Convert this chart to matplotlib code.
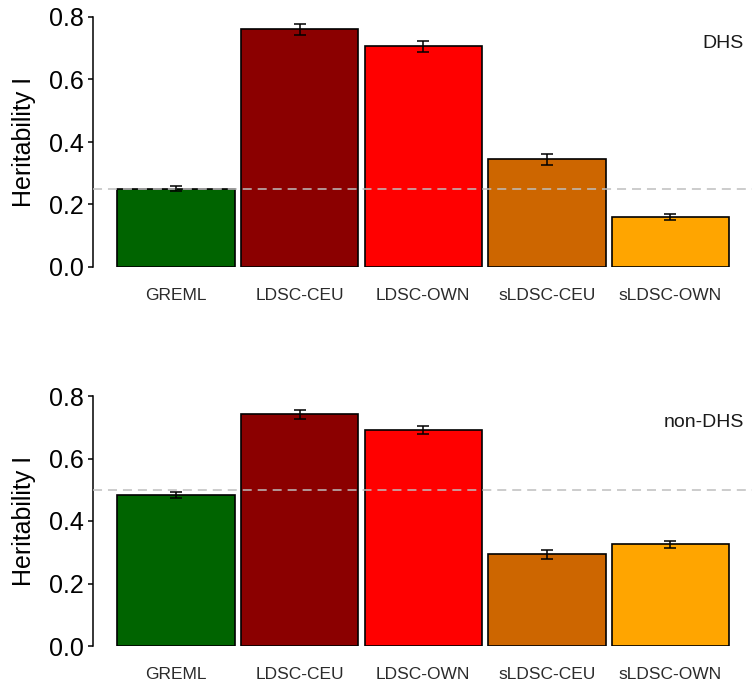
import matplotlib
matplotlib.use('Agg')
import numpy as np
import matplotlib.pyplot as plt

plt.rcParams['font.family'] = ['Liberation Sans', 'DejaVu Sans']

#--- data ---#
methods = ['GREML', 'LDSC-CEU', 'LDSC-OWN', 'sLDSC-CEU', 'sLDSC-OWN']
colors = ['#006400', '#8B0000', '#FF0000', '#CD6600', '#FFA500']
dhs_h2 = [0.251, 0.760, 0.706, 0.344, 0.161]
dhs_se = [0.009, 0.018, 0.017, 0.018, 0.010]
nondhs_h2 = [0.483, 0.741, 0.691, 0.293, 0.326]
nondhs_se = [0.010, 0.013, 0.013, 0.013, 0.011]
panel_labels = ['DHS', 'non-DHS']
ref_lines = [0.25, 0.5]

fig = plt.figure(figsize=(7.52, 6.85), dpi=100)
W, H = 752.0, 685.0
left = 93 / W
width = 1.0 - left
panels = [(17, 267), (396, 646)]   # pixel top/bottom of each panel

x = np.arange(1, len(methods) + 1)
for p, (vals, errs) in enumerate([(dhs_h2, dhs_se), (nondhs_h2, nondhs_se)]):
    top, bot = panels[p]
    ax = fig.add_axes([left, 1 - bot / H, width, (bot - top) / H])
    ax.bar(x, vals, width=0.95, color=colors, edgecolor='black', linewidth=1.2, zorder=2)
    ax.axhline(ref_lines[p], color='#BEBEBE', linewidth=1.1,
               linestyle=(0, (5.9, 3.9)), zorder=3)
    ax.errorbar(x, vals, yerr=errs, fmt='none', ecolor='black',
                elinewidth=1.1, capsize=4.2, capthick=1.1, zorder=4)
    ax.set_xlim(0.328, 5.66)
    ax.set_ylim(0, 0.8)
    ax.set_yticks([0.0, 0.2, 0.4, 0.6, 0.8])
    ax.set_yticklabels(['0.0', '0.2', '0.4', '0.6', '0.8'])
    ax.set_xticks(x)
    ax.set_xticklabels(methods, fontsize=12.5, color='#2b2b2b')
    ax.tick_params(axis='x', length=0, pad=15)
    ax.tick_params(axis='y', labelsize=18, length=3.6, width=1.1, pad=3, colors='black')
    for s in ['top', 'right', 'bottom']:
        ax.spines[s].set_visible(False)
    ax.spines['left'].set_linewidth(1.1)
    ax.set_ylabel('Heritability I', fontsize=18, labelpad=9)
    ax.text(0.988, 0.895, panel_labels[p], transform=ax.transAxes,
            ha='right', va='center', fontsize=14, color='#1a1a1a')

plt.savefig('out.png', dpi=100)
